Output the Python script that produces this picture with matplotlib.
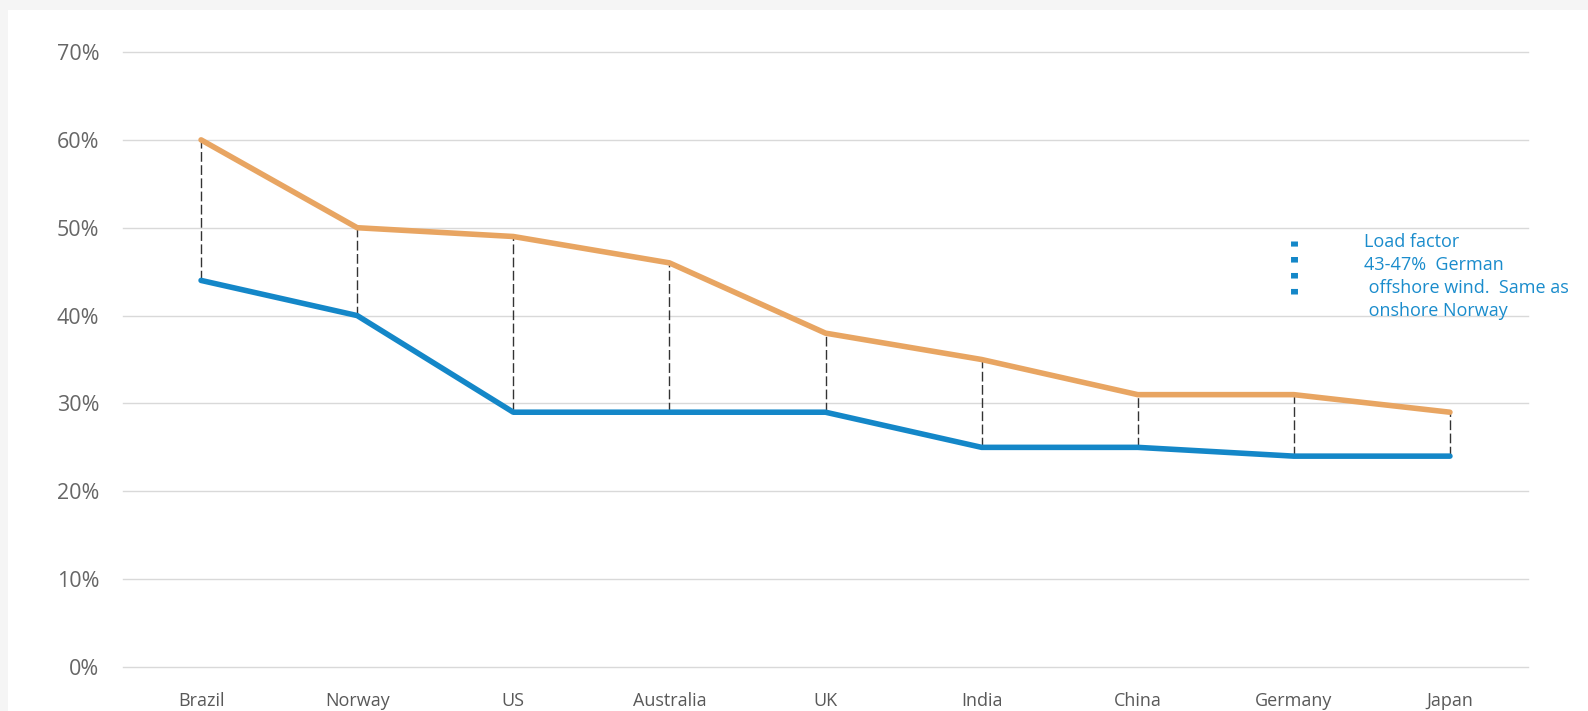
import matplotlib.pyplot as plt
from matplotlib.patches import Rectangle

plt.rcParams['font.family'] = ['Open Sans', 'DejaVu Sans']

countries = ["Brazil", "Norway", "US", "Australia", "UK", "India", "China", "Germany", "Japan"]
high = [60, 50, 49, 46, 38, 35, 31, 31, 29]
low = [44, 40, 29, 29, 29, 25, 25, 24, 24]
german_offshore = [42.5, 48.5]
note = "Load factor\n43-47%  German\n offshore wind.  Same as\n onshore Norway"
yticks = [0, 10, 20, 30, 40, 50, 60, 70]

orange = "#E8A562"
blue = "#1487C8"

fig = plt.figure(figsize=(15.88, 7.11), dpi=100)
fig.patch.set_facecolor("#f5f5f5")
fig.patches.append(Rectangle((8/1588, -0.1), 1, 1.1 - 10/711, transform=fig.transFigure,
                             facecolor="white", edgecolor="none", zorder=-5))

ax = fig.add_axes([123/1588, 1 - 667/711, (1528-123)/1588, (667-52)/711])
ax.set_facecolor("none")

x = list(range(len(countries)))

# dashed connectors
ax.vlines(x, low, high, colors="#333333", linestyles=(0, (7, 2.5)), linewidth=1.0, zorder=2)

ax.plot(x, high, color=orange, lw=4, solid_capstyle="round", solid_joinstyle="round", zorder=3, clip_on=False)
ax.plot(x, low, color=blue, lw=4, solid_capstyle="round", solid_joinstyle="round", zorder=3, clip_on=False)

# German offshore range marker
ax.plot([7, 7], german_offshore, color=blue, lw=5, linestyle=(0, (0.8, 1.5)),
        dash_capstyle="butt", zorder=3)
ax.text(7.45, 49.4, note, color="#1a8ccc", fontsize=13, va="top", ha="left",
        linespacing=1.35, clip_on=False)

ax.set_xlim(-0.5, 8.5)
ax.set_ylim(0, 70)
ax.set_yticks(yticks)
ax.set_yticklabels([f"{v}%" for v in yticks])
ax.set_xticks(x)
ax.set_xticklabels(countries)
ax.grid(axis="y", color="#d9d9d9", linewidth=1)
for gl in ax.get_ygridlines():
    gl.set_clip_on(False)
ax.set_axisbelow(True)
for s in ax.spines.values():
    s.set_visible(False)
ax.tick_params(axis="y", length=0, pad=17, labelsize=15.5, labelcolor="#666666")
ax.tick_params(axis="x", length=0, pad=18, labelsize=13, labelcolor="#595959")

fig.savefig("out.png", dpi=100, facecolor=fig.get_facecolor())
